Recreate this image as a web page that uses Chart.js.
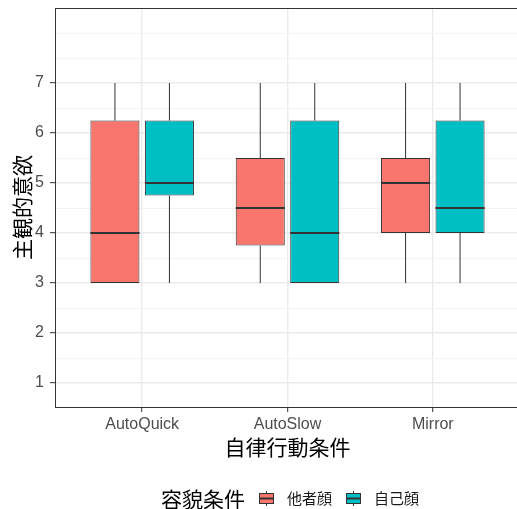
<!DOCTYPE html>
<html>
<head>
<meta charset="utf-8">
<script src="https://cdn.jsdelivr.net/npm/chart.js@4/dist/chart.umd.min.js"></script>
<style>
  html, body { margin: 0; padding: 0; background: #fff; overflow: hidden; width: 517px; height: 509px; }
  #wrap { position: relative; width: 517px; height: 509px; overflow: hidden; }
  #chart { position: absolute; left: 0; top: 0; }
  #legend {
    position: absolute; left: 161px; top: 485px; height: 26px;
    display: flex; align-items: center; white-space: nowrap;
    font-family: "Noto Sans CJK JP", "Noto Sans CJK SC", sans-serif; color: #000;
  }
  #legend .ttl { font-size: 21px; line-height: 26px; }
  #legend .lab { font-size: 15px; line-height: 26px; color: #1a1a1a; }
  #legend canvas { display: block; }
</style>
</head>
<body>
<div id="wrap">
  <canvas id="chart" width="520" height="509"></canvas>
  <div id="legend"></div>
</div>
<script>
// Conditions on the x axis and face groups
const categories = ['AutoQuick', 'AutoSlow', 'Mirror'];
const groupNames = ['他者顔', '自己顔'];
const groupColors = ['#F8766D', '#00BFC4'];

// Five-number summaries per condition: 他者顔
const otherMin = [3, 3, 3];
const otherQ1 = [3, 3.75, 4];
const otherMedian = [4, 4.5, 5];
const otherQ3 = [6.25, 5.5, 5.5];
const otherMax = [7, 7, 7];

// Five-number summaries per condition: 自己顔
const selfMin = [3, 3, 3];
const selfQ1 = [4.75, 3, 4];
const selfMedian = [5, 4, 4.5];
const selfQ3 = [6.25, 6.25, 6.25];
const selfMax = [7, 7, 7];

// y axis breaks
const yTickLabels = ['1', '2', '3', '4', '5', '6', '7'];
const yMinorBreaks = [1.5, 2.5, 3.5, 4.5, 5.5, 6.5, 7.5, 8, 8.5];

const INK = '#333333';
const GRID = '#EBEBEB';
const GRID_MINOR = '#F3F3F3';
const latin = '"Liberation Sans", Arial, sans-serif';
const cjk = '"Noto Sans CJK JP", "Noto Sans CJK SC", sans-serif';

function boxDataset(name, color, mins, q1, med, q3, maxs) {
  return {
    label: name,
    data: categories.map((c, i) => ({ x: i + 1, y: [q1[i], q3[i]] })),
    whiskerLow: mins,
    whiskerHigh: maxs,
    medians: med,
    backgroundColor: color,
    borderColor: INK,
    borderWidth: 1,
    borderSkipped: false,
    categoryPercentage: 0.75,
    barPercentage: 0.9
  };
}

// Whiskers under the boxes, median lines on top of them
const boxParts = {
  id: 'boxParts',
  beforeDatasetsDraw(chart) {
    const ctx = chart.ctx, ys = chart.scales.y;
    ctx.save();
    ctx.strokeStyle = INK;
    ctx.lineWidth = 1;
    chart.data.datasets.forEach((ds, di) => {
      chart.getDatasetMeta(di).data.forEach((bar, i) => {
        const [lo, hi] = ds.data[i].y;
        const x = bar.x;
        ctx.beginPath();
        ctx.moveTo(x, ys.getPixelForValue(ds.whiskerHigh[i]));
        ctx.lineTo(x, ys.getPixelForValue(hi));
        ctx.stroke();
        ctx.beginPath();
        ctx.moveTo(x, ys.getPixelForValue(lo));
        ctx.lineTo(x, ys.getPixelForValue(ds.whiskerLow[i]));
        ctx.stroke();
      });
    });
    ctx.restore();
  },
  afterDatasetsDraw(chart) {
    const ctx = chart.ctx, ys = chart.scales.y;
    ctx.save();
    ctx.strokeStyle = INK;
    ctx.lineWidth = 2;
    chart.data.datasets.forEach((ds, di) => {
      chart.getDatasetMeta(di).data.forEach((bar, i) => {
        const py = ys.getPixelForValue(ds.medians[i]);
        ctx.beginPath();
        ctx.moveTo(bar.x - bar.width / 2, py);
        ctx.lineTo(bar.x + bar.width / 2, py);
        ctx.stroke();
      });
    });
    ctx.restore();
  }
};

const isMajorY = v => yTickLabels.includes(String(v));

new Chart(document.getElementById('chart'), {
  type: 'bar',
  data: {
    datasets: [
      boxDataset(groupNames[0], groupColors[0], otherMin, otherQ1, otherMedian, otherQ3, otherMax),
      boxDataset(groupNames[1], groupColors[1], selfMin, selfQ1, selfMedian, selfQ3, selfMax)
    ]
  },
  options: {
    responsive: false,
    animation: false,
    layout: { padding: { top: 8, left: 0, right: 0, bottom: 0 } },
    plugins: { legend: { display: false }, tooltip: { enabled: false } },
    scales: {
      x: {
        type: 'linear',
        min: 0.4,
        max: 3.6,
        offset: false,
        afterBuildTicks: s => { s.ticks = categories.map((c, i) => ({ value: i + 1 })); },
        afterFit: s => { s.height = 102; s.paddingLeft = 0; s.paddingRight = 0; },
        ticks: {
          autoSkip: false, maxRotation: 0,
          callback: v => categories[v - 1],
          font: { family: latin, size: 16 }, color: '#4D4D4D', padding: 3
        },
        grid: { offset: false, color: GRID, lineWidth: 1.4, tickLength: 5, tickColor: INK, tickWidth: 1 },
        border: { color: INK, width: 1 },
        title: {
          display: true, text: '自律行動条件',
          font: { family: cjk, size: 21 }, color: '#000',
          padding: { top: 49, bottom: 49 }
        }
      },
      // frame line along the top of the panel
      xTop: {
        type: 'linear',
        position: 'top',
        min: 0.4,
        max: 3.6,
        offset: false,
        afterBuildTicks: s => { s.ticks = []; },
        afterFit: s => { s.height = 0; s.paddingLeft = 0; s.paddingRight = 0; },
        ticks: { display: false },
        grid: { display: false, drawTicks: false, lineWidth: 1 },
        border: { display: true, color: INK, width: 1 }
      },
      y: {
        min: 0.52,
        max: 8.5,
        afterBuildTicks: s => {
          s.ticks = yTickLabels.map(Number).concat(yMinorBreaks)
            .sort((a, b) => a - b).map(v => ({ value: v }));
        },
        afterFit: s => { s.width = 55; s.paddingTop = 0; s.paddingBottom = 0; },
        ticks: {
          callback: v => (isMajorY(v) ? String(v) : ''),
          font: { family: latin, size: 16 }, color: '#4D4D4D', padding: 6
        },
        grid: {
          color: c => (c.tick && isMajorY(c.tick.value) ? GRID : GRID_MINOR),
          lineWidth: c => (c.tick && isMajorY(c.tick.value) ? 1.4 : 1),
          tickLength: 5,
          tickColor: c => (c.tick && isMajorY(c.tick.value) ? INK : 'rgba(0,0,0,0)'),
          tickWidth: 1
        },
        border: { color: INK, width: 1 },
        title: {
          display: true, text: '主観的意欲',
          font: { family: cjk, size: 21 }, color: '#000',
          padding: { top: 9, bottom: 9 }
        }
      }
    }
  },
  plugins: [boxParts]
});

// Legend: title followed by one boxplot key per face group
function keyGlyph(color) {
  const c = document.createElement('canvas');
  c.width = 17; c.height = 17;
  const g = c.getContext('2d');
  g.strokeStyle = INK; g.lineWidth = 1;
  g.beginPath(); g.moveTo(8.5, 1); g.lineTo(8.5, 16); g.stroke();
  g.fillStyle = color;
  g.fillRect(1, 3.5, 15, 10);
  g.strokeRect(1.5, 3.5, 14, 10);
  g.lineWidth = 2;
  g.beginPath(); g.moveTo(1.5, 8.5); g.lineTo(15.5, 8.5); g.stroke();
  return c;
}
const legend = document.getElementById('legend');
const ttl = document.createElement('span');
ttl.className = 'ttl'; ttl.textContent = '容貌条件';
legend.appendChild(ttl);
groupNames.forEach((name, i) => {
  const k = keyGlyph(groupColors[i]);
  k.style.marginLeft = '13px';
  legend.appendChild(k);
  const l = document.createElement('span');
  l.className = 'lab'; l.textContent = name; l.style.marginLeft = '12px';
  legend.appendChild(l);
});
</script>
</body>
</html>
